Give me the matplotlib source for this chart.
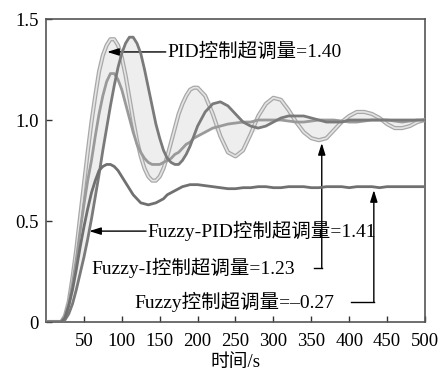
import numpy as np
import matplotlib
matplotlib.use('Agg')
import matplotlib.pyplot as plt

plt.rcParams['font.family'] = ['Liberation Serif', 'Noto Sans CJK SC']
plt.rcParams['axes.unicode_minus'] = False

# 时间轴 (s)
t = [0, 5, 10, 15, 20, 25, 30, 35, 40, 45, 50, 55, 60, 65, 70, 75, 80, 85, 90, 95,
     100, 105, 110, 115, 120, 125, 130, 135, 140, 145, 150, 155, 160, 165, 170, 175,
     180, 185, 190, 195, 200, 210, 220, 230, 240, 250, 260, 270, 280, 290, 300,
     310, 320, 330, 340, 350, 360, 370, 380, 390, 400, 410, 420, 430, 440, 450,
     460, 470, 480, 490, 500]

# PID 控制
pid = [0, 0, 0, 0, 0, 0.03, 0.10, 0.22, 0.36, 0.52, 0.68, 0.84, 0.99, 1.12, 1.24, 1.32,
       1.37, 1.40, 1.40, 1.37, 1.31, 1.22, 1.11, 1.00, 0.90, 0.82, 0.76, 0.72, 0.70,
       0.70, 0.72, 0.76, 0.82, 0.89, 0.96, 1.03, 1.08, 1.12, 1.15, 1.16, 1.16, 1.12,
       1.03, 0.92, 0.84, 0.82, 0.85, 0.93, 1.02, 1.08, 1.11, 1.10, 1.05, 0.99, 0.94,
       0.91, 0.90, 0.91, 0.95, 0.99, 1.02, 1.04, 1.04, 1.03, 1.01, 0.98, 0.96, 0.96,
       0.97, 0.99, 1.00]

# Fuzzy-PID 控制
fuzzy_pid = [0, 0, 0, 0, 0, 0.01, 0.04, 0.09, 0.16, 0.24, 0.32, 0.41, 0.51, 0.62, 0.73,
             0.85, 0.96, 1.07, 1.17, 1.26, 1.33, 1.38, 1.41, 1.41, 1.38, 1.33, 1.25,
             1.16, 1.07, 0.98, 0.91, 0.85, 0.81, 0.79, 0.78, 0.78, 0.80, 0.83, 0.87,
             0.92, 0.97, 1.04, 1.08, 1.09, 1.07, 1.03, 0.99, 0.97, 0.96, 0.97, 0.99,
             1.01, 1.02, 1.02, 1.02, 1.01, 1.00, 0.99, 0.99, 0.99, 1.00, 1.00, 1.00,
             1.00, 1.00, 1.00, 1.00, 1.00, 1.00, 1.00, 1.00]

# Fuzzy-I 控制
fuzzy_i = [0, 0, 0, 0, 0, 0.03, 0.09, 0.19, 0.31, 0.45, 0.58, 0.70, 0.80, 0.92, 1.03,
           1.12, 1.19, 1.23, 1.23, 1.20, 1.15, 1.08, 1.01, 0.94, 0.88, 0.84, 0.81, 0.79,
           0.78, 0.78, 0.78, 0.79, 0.80, 0.81, 0.83, 0.84, 0.86, 0.88, 0.89, 0.91, 0.92,
           0.94, 0.96, 0.97, 0.98, 0.985, 0.99, 0.99, 1.00, 1.00, 1.00, 1.00, 0.995,
           0.99, 0.99, 0.995, 1.00, 1.00, 1.00, 0.995, 0.99, 0.99, 0.995, 1.00, 1.00,
           1.00, 0.995, 0.99, 0.995, 1.00, 1.00]

# Fuzzy 控制
fuzzy = [0, 0, 0, 0, 0, 0.02, 0.08, 0.16, 0.26, 0.37, 0.47, 0.56, 0.64, 0.70, 0.75,
         0.77, 0.78, 0.78, 0.77, 0.75, 0.72, 0.69, 0.66, 0.63, 0.61, 0.59, 0.585, 0.58,
         0.585, 0.59, 0.60, 0.61, 0.63, 0.64, 0.65, 0.66, 0.67, 0.675, 0.68, 0.68, 0.68,
         0.675, 0.67, 0.665, 0.66, 0.66, 0.665, 0.665, 0.67, 0.67, 0.665, 0.665, 0.67,
         0.67, 0.67, 0.665, 0.665, 0.67, 0.67, 0.67, 0.665, 0.67, 0.67, 0.67, 0.665,
         0.67, 0.67, 0.67, 0.67, 0.67, 0.67]

t = np.array(t)
pid = np.array(pid)
fuzzy_pid = np.array(fuzzy_pid)
fuzzy_i = np.array(fuzzy_i)
fuzzy = np.array(fuzzy)

fig = plt.figure(figsize=(4.44, 3.70), dpi=100)
ax = fig.add_axes([0.1036, 0.1297, 0.8536, 0.8189])

# 阴影区域
upper = np.maximum(np.maximum(pid, fuzzy_pid), fuzzy_i)
lower = np.minimum(np.minimum(pid, fuzzy_pid), fuzzy_i)
ax.fill_between(t, lower, upper, color='#eeeeee', lw=0, zorder=1)

# 曲线
ax.plot(t, pid, color='#a8a8a8', lw=3.0, zorder=3)
ax.plot(t, pid, color='#e4e4e4', lw=1.2, zorder=3)
ax.plot(t, fuzzy_i, color='#9a9a9a', lw=2.0, zorder=3)
ax.plot(t, fuzzy_pid, color='#7a7a7a', lw=2.0, zorder=4)
ax.plot(t, fuzzy, color='#707070', lw=2.0, zorder=4)

ax.set_xlim(0, 500)
ax.set_ylim(0, 1.5)
ax.set_xticks([50, 100, 150, 200, 250, 300, 350, 400, 450, 500])
ax.set_yticks([0, 0.5, 1.0, 1.5])
ax.set_yticklabels(['0', '0.5', '1.0', '1.5'])
ax.tick_params(direction='in', length=4, width=1, colors='#333333',
               labelsize=13.5, labelcolor='black')
ax.tick_params(axis='x', pad=8)
ax.tick_params(axis='y', pad=5)
for s in ax.spines.values():
    s.set_color('#555555')
    s.set_linewidth(1.2)
ax.set_xlabel('时间/s', fontsize=13.5, labelpad=3)

fs = 14
arrow = dict(arrowstyle='-|>,head_length=0.7,head_width=0.22', color='black', lw=1,
             shrinkA=0, shrinkB=0)

# 标注
ax.text(160, 1.337, 'PID控制超调量=1.40', fontsize=fs, va='center', ha='left')
ax.annotate('', xy=(80.7, 1.337), xytext=(158, 1.337), arrowprops=arrow)

ax.text(133.6, 0.45, 'Fuzzy-PID控制超调量=1.41', fontsize=fs, va='center', ha='left')
ax.annotate('', xy=(57, 0.45), xytext=(132, 0.45), arrowprops=arrow)

ax.text(59.5, 0.267, 'Fuzzy-I控制超调量=1.23', fontsize=fs, va='center', ha='left')
ax.plot([353, 363.8], [0.267, 0.267], color='black', lw=1)
ax.annotate('', xy=(363.8, 0.886), xytext=(363.8, 0.267), arrowprops=arrow)

ax.text(117, 0.099, 'Fuzzy控制超调量=–0.27', fontsize=fs, va='center', ha='left')
ax.plot([402, 432.5], [0.099, 0.099], color='black', lw=1)
ax.annotate('', xy=(432.5, 0.653), xytext=(432.5, 0.099), arrowprops=arrow)

fig.savefig('out.png', dpi=100)
